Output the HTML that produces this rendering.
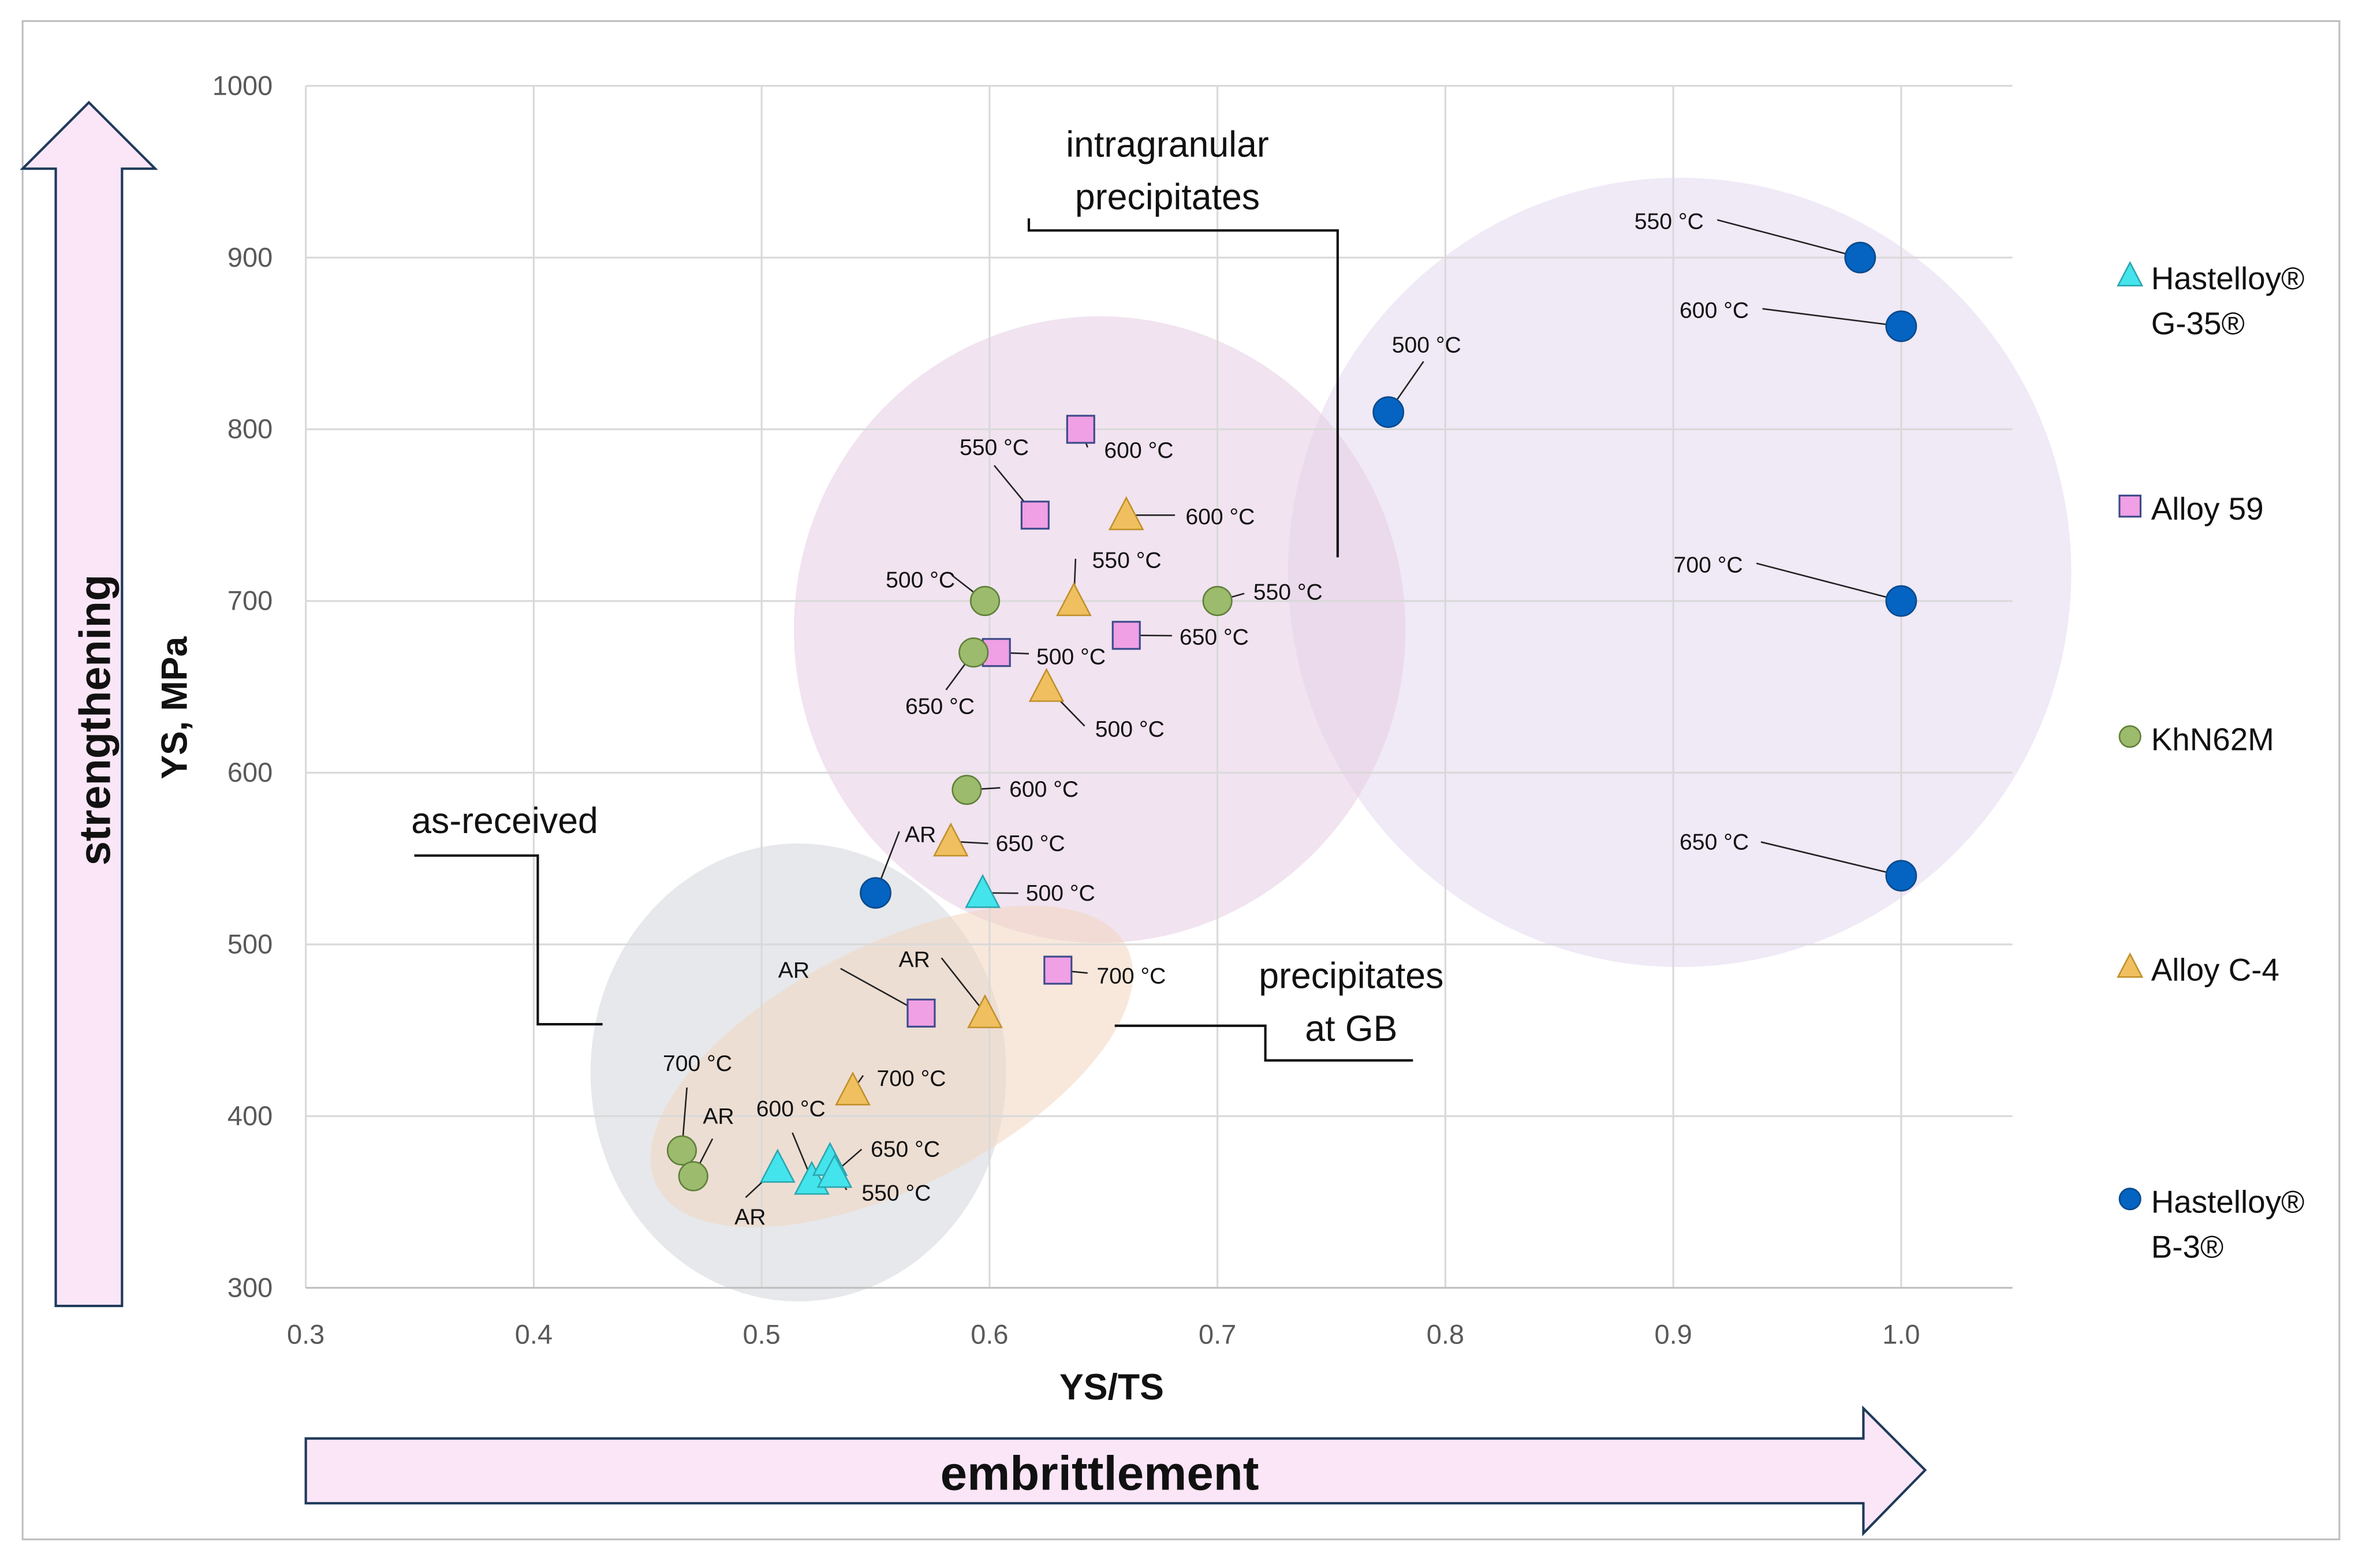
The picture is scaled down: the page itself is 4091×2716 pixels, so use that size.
<!DOCTYPE html>
<html><head><meta charset="utf-8"><style>
html,body{margin:0;padding:0;background:#fff}
svg{display:block}
text{font-family:"Liberation Sans",sans-serif}
</style></head><body>
<svg id="chart" width="4091" height="2716" viewBox="0 0 1568 1041" xmlns="http://www.w3.org/2000/svg">
<rect x="15" y="14" width="1538" height="1008" fill="#fff" stroke="#bfbfbf" stroke-width="1.2"/>
<g id="ellipses">
<ellipse cx="1115" cy="380" rx="260" ry="262" fill="#e6daf0" opacity="0.6"/>
<ellipse cx="730" cy="418" rx="203" ry="208" fill="#e8d0e6" opacity="0.6"/>
<ellipse cx="530" cy="712" rx="138" ry="152" fill="#d5d8de" opacity="0.6"/>
<ellipse cx="592" cy="708" rx="175" ry="80" transform="rotate(-27 592 708)" fill="#f2d6c0" opacity="0.55"/>
</g>
<g id="grid"></g>
<g id="axes"></g>
<g id="annot">
<text x="775" y="104" font-size="24" text-anchor="middle" fill="#111">intragranular</text>
<text x="775" y="139" font-size="24" text-anchor="middle" fill="#111">precipitates</text>
<polyline points="683,145 683,153 888,153 888,370" fill="none" stroke="#111" stroke-width="1.6"/>
<text x="335" y="553" font-size="24" text-anchor="middle" fill="#111">as-received</text>
<polyline points="275,568 357,568 357,680 400,680" fill="none" stroke="#111" stroke-width="1.6"/>
<text x="897" y="656" font-size="24" text-anchor="middle" fill="#111">precipitates</text>
<text x="897" y="691" font-size="24" text-anchor="middle" fill="#111">at GB</text>
<polyline points="740,681 840,681 840,704 938,704" fill="none" stroke="#111" stroke-width="1.6"/>
</g>
<g id="labels"></g>
<g id="marks"></g>
<g id="arrows">
<polygon points="37,867 81,867 81,112 103,112 59,68 15,112 37,112" fill="#fbe6f8" stroke="#1f3a5a" stroke-width="1.6"/>
<text transform="translate(73,478) rotate(-90)" font-size="29" font-weight="bold" text-anchor="middle" fill="#111">strengthening</text>
<polygon points="203,955 1237,955 1237,935 1278,976 1237,1018 1237,998 203,998" fill="#fbe6f8" stroke="#1f3a5a" stroke-width="1.6"/>
<text x="730" y="989" font-size="32" font-weight="bold" text-anchor="middle" fill="#111">embrittlement</text>
<text transform="translate(124,470) rotate(-90)" font-size="24" font-weight="bold" text-anchor="middle" fill="#111">YS, MPa</text>
<text x="738" y="929" font-size="24" font-weight="bold" text-anchor="middle" fill="#111">YS/TS</text>
</g>
<g id="legend"></g>
</svg>
<script>
const NS="http://www.w3.org/2000/svg";
const xTicks=[0.3,0.4,0.5,0.6,0.7,0.8,0.9,1.0];
const yTicks=[300,400,500,600,700,800,900,1000];
const seriesNames=["Hastelloy B-3","Alloy 59","KhN62M","Alloy C-4","Hastelloy G-35"];
const b3X=[0.982,1.0,0.775,1.0,1.0,0.55];
const b3Y=[900,860,810,700,540,530];
const a59X=[0.64,0.62,0.66,0.603,0.63,0.57];
const a59Y=[800,750,680,670,485,460];
const khX=[0.598,0.70,0.593,0.59,0.465,0.47];
const khY=[700,700,670,590,380,365];
const c4X=[0.66,0.637,0.625,0.583,0.598,0.54];
const c4Y=[750,700,650,560,460,415];
const g35X=[0.597,0.507,0.522,0.53,0.532];
const g35Y=[530,370,363,374,367];
const X=v=>203+(v-0.3)*1513;
const Y=v=>855-(v-300)*1.14;
function mk(tag,attrs,parent){const e=document.createElementNS(NS,tag);for(const k in attrs)e.setAttribute(k,attrs[k]);parent.appendChild(e);return e;}
const grid=document.getElementById('grid'),axes=document.getElementById('axes');

xTicks.forEach((t,i)=>{
  const l=mk('line',{x1:X(t),x2:X(t),y1:Y(1000),y2:Y(300),stroke:'#d9d9d9','stroke-width':1.2},grid);
  
  
  const tx=mk('text',{x:X(t),y:892,'font-size':18,'text-anchor':'middle',fill:'#595959'},axes);
  tx.textContent=t.toFixed(1);
  
  
});
yTicks.forEach(t=>{
  const l=mk('line',{x1:X(0.3),x2:1336,y1:Y(t),y2:Y(t),stroke:t===300?'#bfbfbf':'#d9d9d9','stroke-width':1.2},grid);
  
  
  const tx=mk('text',{x:181,y:Y(t)+6,'font-size':18,'text-anchor':'end',fill:'#595959'},axes);
  tx.textContent=t;
  
  
});
const styles=[
 {shape:'circle',fill:'#0563c1',stroke:'#0a4a8a'},
 {shape:'square',fill:'#f0a0e4',stroke:'#3c4a8a'},
 {shape:'circle',fill:'#9cbb6c',stroke:'#5f7f3a'},
 {shape:'tri',fill:'#f0c060',stroke:'#c0902a'},
 {shape:'tri',fill:'#44e4ec',stroke:'#2aa6b0'}];
const sx=[b3X,a59X,khX,c4X,g35X],sy=[b3Y,a59Y,khY,c4Y,g35Y];
function drawShape(s,cx,cy,size,parent){
  if(s.shape==='circle')return mk('circle',{cx,cy,r:size/2,fill:s.fill,stroke:s.stroke,'stroke-width':1},parent);
  if(s.shape==='square')return mk('rect',{x:cx-size/2,y:cy-size/2,width:size,height:size,fill:s.fill,stroke:s.stroke,'stroke-width':1.2},parent);
  const h=size*0.95;return mk('polygon',{points:`${cx},${cy-h/2-2} ${cx+size/2+1},${cy+h/2} ${cx-size/2-1},${cy+h/2}`,fill:s.fill,stroke:s.stroke,'stroke-width':1},parent);
}
// labels: series, index, text, tx, ty, anchor, leader start
const labelSeries=[0,0,0,0,0,0,1,1,1,1,1,1,2,2,2,2,2,2,3,3,3,3,3,3,4,4,4,4,4];
const labelIndex=[0,1,2,3,4,5,0,1,2,3,4,5,0,1,2,3,4,5,0,1,2,3,4,5,0,4,3,1,2];
const labelText=["550 °C","600 °C","500 °C","700 °C","650 °C","AR","600 °C","550 °C","650 °C","500 °C","700 °C","AR","500 °C","550 °C","650 °C","600 °C","700 °C","AR","600 °C","550 °C","500 °C","650 °C","AR","700 °C","500 °C","650 °C","550 °C","AR","600 °C"];
const labelPos=[[1108,152,'middle',1140,146],[1138,211,'middle',1170,205],[947,234,'middle',945,240],[1134,380,'middle',1166,374],[1138,564,'middle',1169,559],[611,559,'middle',597,552],
[733,304,'start',722,297],[660,302,'middle',660,309],[783,428,'start',778,422],[688,441,'start',683,434],[728,653,'start',722,646],[527,649,'middle',558,643],
[611,390,'middle',632,382],[832,398,'start',826,394],[624,474,'middle',628,458],[670,529,'start',664,523],[463,711,'middle',456,722],[477,746,'middle',473,756],
[787,348,'start',780,342],[725,377,'start',714,371],[727,489,'start',720,482],[661,565,'start',656,560],[607,642,'middle',625,636],[582,721,'start',573,714],
[681,598,'start',676,593],[578,768,'start',572,763],[572,797,'start',562,790],[498,813,'middle',495,795],[525,741,'middle',526,752]];
const lab=document.getElementById('labels'),marks=document.getElementById('marks');


labelText.forEach((t,k)=>{
  const s=labelSeries[k],i=labelIndex[k],p=labelPos[k];
  const ln=mk('line',{x1:p[3],y1:p[4],x2:X(sx[s][i]),y2:Y(sy[s][i]),stroke:'#222','stroke-width':1},lab);
  
  
  const tx=mk('text',{x:p[0],y:p[1],'font-size':15,'text-anchor':p[2],fill:'#111'},lab);
  tx.textContent=t;
  
  
});
const sizes=[20,18,19,20,20];
sx.forEach((xs,s)=>xs.forEach((v,i)=>{
  const e=drawShape(styles[s],X(v),Y(sy[s][i]),sizes[s],marks);
  
  
}));
const leg=document.getElementById('legend');

const legOrder=[4,1,2,3,0];
const legLines=[["Hastelloy®","G-35®"],["Alloy 59"],["KhN62M"],["Alloy C-4"],["Hastelloy®","B-3®"]];
const legY=[184,337,490,643,797];
legOrder.forEach((s,k)=>{
  const g=mk('g',{},leg);
  
  
  drawShape(styles[s],1414,legY[k]-1,14,g);
  legLines[k].forEach((t,j)=>{const tx=mk('text',{x:1428,y:legY[k]+8+j*30,'font-size':21,fill:'#111'},g);tx.textContent=t;});
});
</script>
</body></html>
